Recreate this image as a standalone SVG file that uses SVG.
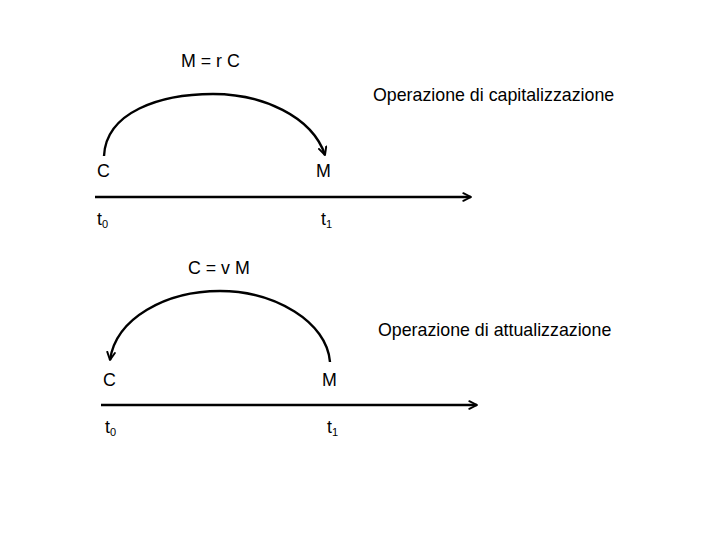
<svg xmlns="http://www.w3.org/2000/svg" width="720" height="540" viewBox="0 0 720 540">
<defs>
<marker id="arr" viewBox="0 0 10 10" refX="9" refY="5" markerWidth="4" markerHeight="4" orient="auto" markerUnits="strokeWidth">
<path d="M1,1 L9,5 L1,9" fill="none" stroke="#000" stroke-width="2" stroke-linecap="round" stroke-linejoin="round"/>
</marker>
</defs>
<style>
text{font-family:"Liberation Sans",Arial,sans-serif;font-size:17.8px;fill:#000}
.sub{font-size:11px}
.ln{fill:none;stroke:#000;stroke-width:2.4}
</style>
<rect width="720" height="540" fill="#fff"/>
<g id="connectors">
<line class="ln" x1="95" y1="197" x2="471" y2="197" marker-end="url(#arr)"/>
<line class="ln" x1="101" y1="405" x2="477" y2="405" marker-end="url(#arr)"/>
<path class="ln" d="M104,156 C106,112 160,94 213,94 C262,94 312,116 325,155" marker-end="url(#arr)"/>
<path class="ln" d="M330,362 C327,322 275,291 220,291 C166,291 116,318 110,360" marker-end="url(#arr)"/>
</g>
<g id="top-C"><text x="97" y="177">C</text></g>
<g id="top-M"><text x="316" y="177">M</text></g>
<g id="top-t0"><text x="97" y="225">t<tspan class="sub" dy="3">0</tspan></text></g>
<g id="top-t1"><text x="321" y="225">t<tspan class="sub" dy="3">1</tspan></text></g>
<g id="top-formula"><text x="181" y="67">M = r C</text></g>
<g id="top-title"><text x="373" y="101">Operazione di capitalizzazione</text></g>
<g id="bot-C"><text x="103" y="386">C</text></g>
<g id="bot-M"><text x="322" y="386">M</text></g>
<g id="bot-t0"><text x="105" y="433">t<tspan class="sub" dy="3">0</tspan></text></g>
<g id="bot-t1"><text x="327" y="433">t<tspan class="sub" dy="3">1</tspan></text></g>
<g id="bot-formula"><text x="188" y="274">C = v M</text></g>
<g id="bot-title"><text x="378" y="336">Operazione di attualizzazione</text></g>
</svg>
